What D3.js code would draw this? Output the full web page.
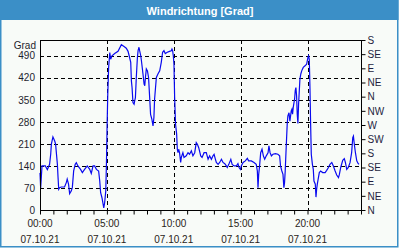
<!DOCTYPE html>
<html>
<head>
<meta charset="utf-8">
<script src="https://cdn.jsdelivr.net/npm/d3@7"></script>
<style>
  body { margin: 0; background: #ffffff; }
  svg { display: block; }
  text { font-family: "Liberation Sans", Arial, sans-serif; }
</style>
</head>
<body>
<div id="chart"></div>
<script>
// wind direction readings, 07.10.21 (time of day, degrees)
var times = ["00:00","00:03","00:09","00:24","00:33","00:43","00:48","00:51","00:58","01:06","01:10","01:18","01:21","01:24","01:28","01:35","01:50","01:58","02:02","02:08","02:13","02:20","02:25","02:31","02:38","02:43","02:50","03:02","03:10","03:20","03:32","03:43","03:50","03:58","04:05","04:13","04:23","04:28","04:32","04:38","04:46","04:50","04:55","04:58","05:01","05:04","05:08","05:13","05:17","05:23","05:35","05:50","06:05","06:17","06:27","06:35","06:40","06:47","06:50","06:53","06:57","07:02","07:05","07:08","07:12","07:17","07:20","07:24","07:27","07:32","07:35","07:42","07:47","07:50","07:53","07:57","08:02","08:07","08:12","08:16","08:22","08:27","08:31","08:34","08:42","08:49","08:57","09:04","09:10","09:16","09:22","09:31","09:41","09:49","09:52","09:55","09:58","10:01","10:04","10:08","10:13","10:16","10:19","10:22","10:26","10:31","10:34","10:41","10:46","10:56","11:04","11:11","11:19","11:26","11:34","11:41","11:46","11:52","12:01","12:07","12:16","12:26","12:34","12:41","12:49","12:56","13:01","13:07","13:11","13:19","13:26","13:34","13:41","13:49","13:56","14:00","14:07","14:16","14:22","14:31","14:41","14:48","14:53","14:59","15:03","15:11","15:21","15:30","15:36","15:48","16:00","16:10","16:15","16:18","16:21","16:25","16:30","16:36","16:42","16:48","16:55","17:03","17:07","17:12","17:18","17:25","17:36","17:47","17:55","17:59","18:05","18:10","18:14","18:17","18:20","18:25","18:29","18:32","18:37","18:41","18:47","18:50","18:53","18:56","19:02","19:05","19:08","19:11","19:14","19:17","19:20","19:26","19:30","19:34","19:41","19:49","19:56","20:02","20:05","20:08","20:11","20:14","20:17","20:22","20:26","20:29","20:35","20:38","20:41","20:44","20:49","20:53","20:59","21:08","21:19","21:26","21:34","21:41","21:49","21:56","22:04","22:11","22:19","22:23","22:29","22:38","22:45","22:50","22:56","23:03","23:11","23:18","23:23","23:26","23:30","23:35","23:41","23:47","23:51"];
var degrees = [118,70,140,140,128,145,177,209,232,219,209,145,103,66,71,73,73,87,98,82,52,60,71,124,145,150,140,129,119,129,140,129,116,140,140,129,124,92,55,39,7,23,60,145,267,368,453,500,479,490,497,504,525,519,514,504,490,469,410,389,341,336,347,357,421,485,506,517,506,490,474,432,400,395,421,448,442,421,357,304,288,267,294,352,421,432,442,469,501,506,497,501,504,506,511,506,490,463,357,273,241,193,182,193,182,151,167,182,167,172,182,177,188,172,182,214,209,198,172,167,182,182,161,172,161,172,177,161,151,145,151,161,151,147,140,135,145,161,145,140,140,147,135,129,140,151,156,164,156,156,151,145,124,71,113,140,182,193,172,161,172,182,204,182,172,177,179,177,172,140,124,113,71,87,124,209,273,299,309,282,315,320,304,326,352,379,389,363,304,275,336,416,432,442,453,458,463,485,490,479,389,273,177,145,129,92,82,41,66,82,103,119,124,119,119,126,135,145,151,140,124,111,103,113,135,158,163,151,129,135,151,182,230,235,209,182,156,148,145];

var dayLabel = "07.10.21";
var gradTicks = [0, 70, 140, 210, 280, 350, 420, 490];
var compassNames = ["N","NE","E","SE","S","SW","W","NW","N","NE","E","SE","S"];
var labelHours = [0, 5, 10, 15, 20];

var W = 400, H = 250;
var margin = {top: 40, right: 39, bottom: 40, left: 40};
var width = W - margin.left - margin.right,
    height = H - margin.top - margin.bottom;

var parse = d3.timeParse("%d.%m.%y %H:%M");
var data = times.map(function(t, i) {
    return {t: parse(dayLabel + " " + t), v: degrees[i]};
});
var day0 = parse(dayLabel + " 00:00");
var day1 = d3.timeDay.offset(day0, 1);

var svg = d3.select("#chart").append("svg")
    .attr("width", W).attr("height", H);

// frame + title bar
svg.append("rect").attr("x", 0).attr("y", 0).attr("width", 399).attr("height", 248)
    .attr("fill", "#f8fbf8");
svg.append("rect").attr("x", 0.75).attr("y", 0).attr("width", 397).attr("height", 246.75)
    .attr("fill", "none").attr("stroke", "#3b8fc7").attr("stroke-width", 1.5);
svg.append("rect").attr("x", 0).attr("y", 0).attr("width", 398.5).attr("height", 20)
    .attr("fill", "#3b8fc7");
svg.append("text").attr("x", 200).attr("y", 14.5)
    .attr("text-anchor", "middle")
    .attr("fill", "#ffffff").attr("font-size", "11px").attr("font-weight", "bold")
    .text("Windrichtung [Grad]");

var g = svg.append("g")
    .attr("transform", "translate(" + margin.left + "," + margin.top + ")");

var x = d3.scaleTime().domain([day0, day1]).range([0, width]);
var y = d3.scaleLinear().domain([0, 540]).range([height, 0]);

// grid
g.append("g").selectAll("line.hgrid")
    .data(gradTicks.slice(1))
    .enter().append("line")
    .attr("x1", 0).attr("x2", width)
    .attr("y1", function(d) { return Math.round(y(d)) + 0.5; })
    .attr("y2", function(d) { return Math.round(y(d)) + 0.5; })
    .attr("stroke", "#000").attr("stroke-dasharray", "4,3");
g.append("g").selectAll("line.vgrid")
    .data(labelHours.slice(1))
    .enter().append("line")
    .attr("x1", function(d) { return Math.round(x(d3.timeHour.offset(day0, d))) + 0.5; })
    .attr("x2", function(d) { return Math.round(x(d3.timeHour.offset(day0, d))) + 0.5; })
    .attr("y1", 0).attr("y2", height)
    .attr("stroke", "#000").attr("stroke-dasharray", "4,3");

// the series
var line = d3.line()
    .x(function(d) { return x(d.t); })
    .y(function(d) { return y(d.v); });
g.append("path").datum(data)
    .attr("d", line)
    .attr("fill", "none")
    .attr("stroke", "#0a0aef")
    .attr("stroke-width", 1.2);

// frame of the plot
g.append("rect").attr("x", 0.5).attr("y", 0.5).attr("width", width).attr("height", height)
    .attr("fill", "none").attr("stroke", "#000");

// left axis (degrees)
var leftAxis = d3.axisLeft(y).tickValues(gradTicks).tickSize(0).tickPadding(5);
g.append("g").call(leftAxis).call(function(a) {
    a.select(".domain").remove();
    a.selectAll("text").attr("font-size", "10px").attr("fill", "#1e1e2e")
        .attr("font-family", "Liberation Sans, Arial, sans-serif");
});
g.append("text").attr("x", -4).attr("y", 9)
    .attr("text-anchor", "end").attr("font-size", "10px").attr("fill", "#1e1e2e")
    .text("Grad");

// right axis (compass)
var rightAxis = d3.axisRight(y)
    .tickValues(d3.range(compassNames.length).map(function(i) { return i * 45; }))
    .tickFormat(function(d) { return compassNames[d / 45]; })
    .tickSize(4).tickSizeOuter(0).tickPadding(2);
g.append("g").attr("transform", "translate(" + (width + 0.5) + ",0)")
    .call(rightAxis).call(function(a) {
        a.select(".domain").remove();
        a.selectAll("line").attr("stroke", "#000");
        a.selectAll("text").attr("font-size", "10px").attr("fill", "#1e1e3e")
            .attr("font-family", "Liberation Sans, Arial, sans-serif");
    });

// bottom axis, hourly ticks, labels every 5h
var bottomAxis = d3.axisBottom(x)
    .ticks(d3.timeHour.every(1))
    .tickSize(4).tickSizeOuter(0)
    .tickFormat("");
var bx = g.append("g").attr("transform", "translate(0," + (height + 0.5) + ")")
    .call(bottomAxis);
bx.select(".domain").remove();
bx.selectAll("line").attr("stroke", "#000");

var lbl = g.append("g").selectAll("g.lbl")
    .data(labelHours)
    .enter().append("g")
    .attr("transform", function(d) { return "translate(" + x(d3.timeHour.offset(day0, d)) + "," + height + ")"; });
lbl.append("text").attr("y", 16.5).attr("text-anchor", "middle")
    .attr("font-size", "10px").attr("fill", "#2a2418")
    .text(function(d) { return d3.timeFormat("%H:%M")(d3.timeHour.offset(day0, d)); });
lbl.append("text").attr("y", 32.5).attr("text-anchor", "middle")
    .attr("font-size", "10px").attr("fill", "#2a2418")
    .text(dayLabel);
</script>
</body>
</html>
